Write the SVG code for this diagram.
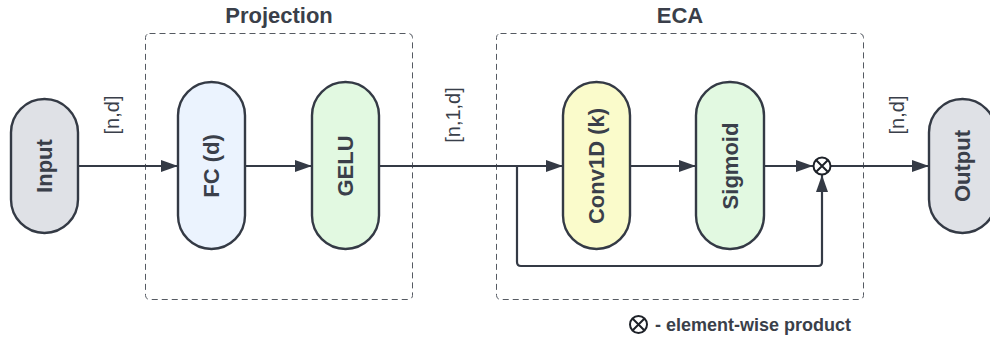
<svg xmlns="http://www.w3.org/2000/svg" width="990" height="337" viewBox="0 0 990 337">
  <defs>
    <marker id="arrow" markerWidth="18" markerHeight="14" refX="17" refY="7" orient="auto" markerUnits="userSpaceOnUse">
      <path d="M0,1 L17,7 L0,13 Z" fill="#343a45"/>
    </marker>
  </defs>
  <style>
    .node { stroke: #343a45; stroke-width: 2.4; }
    .label { font-family: "Liberation Sans", Arial, sans-serif; font-weight: bold; font-size: 22px; fill: #3a3f4a; text-anchor: middle; dominant-baseline: central; }
    .dim { font-family: "Liberation Sans", Arial, sans-serif; font-size: 20px; fill: #3a3f4a; text-anchor: middle; dominant-baseline: central; }
    .title { font-family: "Liberation Sans", Arial, sans-serif; font-weight: bold; font-size: 22px; fill: #3a3f4a; text-anchor: middle; }
    .group { fill: none; stroke: #555a62; stroke-width: 1; stroke-dasharray: 6 4; }
    .edge { fill: none; stroke: #343a45; stroke-width: 2.2; stroke-linejoin: round; }
    .op { fill: #ffffff; stroke: #1e2229; stroke-width: 2; }
  </style>
  <rect width="990" height="337" fill="#ffffff"/>

  <!-- group frames -->
  <g id="projection">
    <rect class="group" x="145.5" y="33.5" width="267" height="266" rx="4"/>
    <text class="title" x="279" y="23">Projection</text>
  </g>
  <g id="eca">
    <rect class="group" x="496.5" y="33.5" width="367" height="266" rx="4"/>
    <text class="title" x="680" y="23">ECA</text>
  </g>

  <!-- connectors -->
  <g id="connectors">
    <path class="edge" d="M78,166 L178,166" marker-end="url(#arrow)"/>
    <path class="edge" d="M245,166 L312,166" marker-end="url(#arrow)"/>
    <path class="edge" d="M379,166 L563,166" marker-end="url(#arrow)"/>
    <path class="edge" d="M630,166 L696,166" marker-end="url(#arrow)"/>
    <path class="edge" d="M764,166 L813,166" marker-end="url(#arrow)"/>
    <path class="edge" d="M517,166 L517,262 Q517,266 521,266 L818,266 Q822,266 822,262 L822,175" marker-end="url(#arrow)"/>
    <path class="edge" d="M831,166 L929,166" marker-end="url(#arrow)"/>
    <text class="dim" transform="translate(112,115) rotate(-90)">[n,d]</text>
    <text class="dim" transform="translate(453,115) rotate(-90)">[n,1,d]</text>
    <text class="dim" transform="translate(897,115) rotate(-90)">[n,d]</text>
  </g>

  <!-- nodes -->
  <g id="input">
    <rect class="node" x="11" y="99" width="67" height="134" rx="33.5" fill="#dfe1e6"/>
    <text class="label" transform="translate(44.5,166) rotate(-90)">Input</text>
  </g>
  <g id="fc">
    <rect class="node" x="178" y="82" width="67" height="167" rx="33.5" fill="#ebf3fe"/>
    <text class="label" transform="translate(211.5,166) rotate(-90)">FC (d)</text>
  </g>
  <g id="gelu">
    <rect class="node" x="312" y="82" width="67" height="167" rx="33.5" fill="#e2f9e1"/>
    <text class="label" transform="translate(345.5,166) rotate(-90)">GELU</text>
  </g>
  <g id="conv1d">
    <rect class="node" x="563" y="82" width="67" height="167" rx="33.5" fill="#fafbcb"/>
    <text class="label" transform="translate(596.5,166) rotate(-90)">Conv1D (k)</text>
  </g>
  <g id="sigmoid">
    <rect class="node" x="696" y="82" width="68" height="167" rx="33.5" fill="#e2f9e1"/>
    <text class="label" transform="translate(730,166) rotate(-90)">Sigmoid</text>
  </g>
  <g id="product">
    <circle class="op" cx="822" cy="166" r="8.5"/>
    <path d="M816,160 L828,172 M828,160 L816,172" stroke="#1e2229" stroke-width="2"/>
  </g>
  <g id="output">
    <rect class="node" x="929" y="99" width="67" height="134" rx="33.5" fill="#dfe1e6"/>
    <text class="label" transform="translate(962.5,166) rotate(-90)">Output</text>
  </g>

  <!-- legend -->
  <g id="legend">
    <circle class="op" cx="638.5" cy="324.5" r="8.5"/>
    <path d="M632.5,318.5 L644.5,330.5 M644.5,318.5 L632.5,330.5" stroke="#1e2229" stroke-width="2"/>
    <text x="655" y="330.5" font-family="Liberation Sans, Arial, sans-serif" font-weight="bold" font-size="18" fill="#3a3f4a">- element-wise product</text>
  </g>
</svg>
